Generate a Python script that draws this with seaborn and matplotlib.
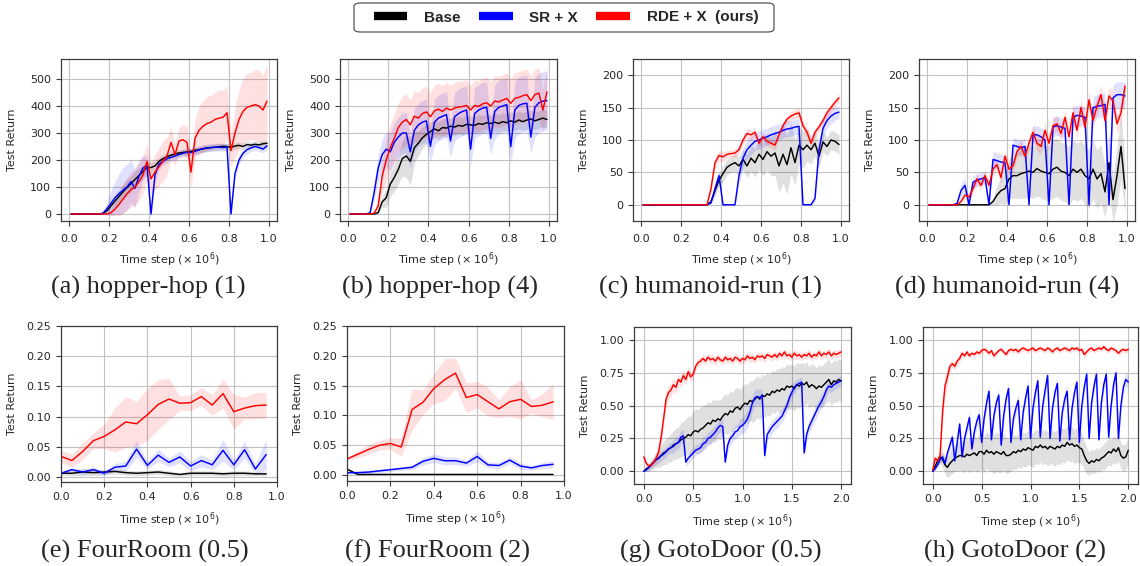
import numpy as np
import matplotlib
matplotlib.use("Agg")
import matplotlib.pyplot as plt
from matplotlib.lines import Line2D
from matplotlib.patches import FancyBboxPatch
import seaborn as sns

# x positions of the logged evaluations
x_top = np.linspace(0.01, 0.99, 50)   # hopper / humanoid, x 1e6 steps
x_four = np.linspace(0.0, 0.95, 20)   # FourRoom
x_goto = np.linspace(0.0, 2.0, 81)    # GotoDoor

# ---------------- (a) hopper-hop (1)
hh1_base = [0, 0, 0, 0, 0, 0, 0, 0, 2, 12,
            30, 48, 65, 82, 98, 112, 128, 142, 158, 172,
            172, 178, 195, 205, 212, 218, 222, 226, 228, 230,
            232, 236, 238, 241, 244, 246, 247, 249, 251, 250,
            246, 252, 254, 250, 257, 255, 258, 256, 260, 262]
hh1_base_sd = [0, 0, 0, 0, 0, 0, 0, 0, 2, 8,
               15, 20, 25, 28, 30, 30, 30, 28, 25, 22,
               20, 18, 15, 15, 14, 12, 12, 12, 12, 12,
               12, 12, 12, 13, 12, 12, 12, 13, 12, 12,
               14, 12, 12, 13, 12, 12, 13, 12, 12, 12]
hh1_sr = [0, 0, 0, 0, 0, 0, 0, 0, 3, 20,
          40, 60, 75, 88, 100, 120, 95, 140, 170, 180,
          0, 145, 185, 195, 205, 210, 215, 220, 225, 228,
          228, 232, 238, 242, 245, 246, 247, 248, 246, 248,
          0, 150, 200, 225, 238, 245, 250, 246, 240, 252]
hh1_sr_sd = [0, 0, 0, 0, 0, 0, 0, 0, 5, 25,
             45, 60, 75, 85, 85, 80, 70, 60, 45, 35,
             10, 30, 20, 15, 15, 14, 14, 14, 14, 14,
             14, 14, 14, 14, 14, 14, 14, 14, 14, 14,
             5, 20, 15, 14, 14, 14, 14, 14, 14, 14]
hh1_rde = [0, 0, 0, 0, 0, 0, 0, 0, 0, 0,
           5, 18, 35, 55, 75, 90, 100, 120, 145, 195,
           130, 155, 175, 195, 215, 265, 220, 270, 275, 265,
           155, 280, 310, 325, 335, 340, 350, 355, 358, 375,
           235, 300, 350, 380, 395, 400, 405, 400, 385, 418]
hh1_rde_sd = [0, 0, 0, 0, 0, 0, 0, 0, 0, 0,
              10, 25, 40, 55, 60, 65, 70, 70, 70, 65,
              60, 65, 70, 75, 70, 55, 40, 50, 55, 60,
              60, 70, 90, 95, 100, 100, 100, 105, 100, 100,
              60, 90, 110, 120, 125, 125, 130, 135, 130, 135]

# ---------------- (b) hopper-hop (4)
hh4_base = [0, 0, 0, 0, 0, 0, 0, 5, 45, 60,
            110, 135, 165, 205, 215, 195, 245, 262, 282, 295,
            305, 315, 308, 320, 318, 325, 322, 328, 325, 332,
            330, 328, 335, 332, 338, 335, 340, 335, 342, 338,
            345, 340, 348, 342, 348, 352, 345, 350, 355, 350]
hh4_base_sd = [0, 0, 0, 0, 0, 0, 0, 5, 20, 35,
               45, 50, 55, 65, 80, 90, 60, 45, 40, 38,
               35, 32, 33, 32, 34, 32, 33, 32, 34, 32,
               33, 32, 34, 32, 33, 32, 34, 32, 33, 32,
               34, 32, 33, 32, 34, 32, 33, 32, 34, 32]
hh4_sr = [0, 0, 0, 0, 0, 5, 80, 170, 220, 240,
          230, 265, 285, 300, 300, 230, 310, 330, 340, 345,
          250, 340, 355, 362, 368, 270, 360, 372, 380, 385,
          240, 372, 385, 392, 395, 280, 380, 395, 400, 405,
          250, 385, 402, 408, 410, 285, 395, 412, 418, 420]
hh4_sr_sd = [0, 0, 0, 0, 0, 5, 30, 50, 60, 65,
             70, 70, 75, 75, 75, 60, 80, 80, 80, 80,
             60, 85, 85, 85, 85, 60, 90, 90, 90, 90,
             60, 95, 95, 95, 95, 60, 100, 100, 100, 100,
             60, 105, 105, 105, 105, 60, 110, 110, 110, 110]
hh4_rde = [0, 0, 0, 0, 0, 0, 3, 30, 140, 200,
           245, 280, 320, 340, 350, 330, 362, 355, 372, 378,
           360, 382, 388, 380, 392, 385, 392, 396, 398, 402,
           385, 402, 398, 408, 412, 400, 418, 415, 422, 428,
           410, 428, 432, 438, 442, 420, 442, 448, 385, 452]
hh4_rde_sd = [0, 0, 0, 0, 0, 0, 2, 20, 60, 80,
              85, 90, 90, 95, 95, 90, 95, 95, 95, 95,
              90, 95, 95, 95, 95, 90, 95, 95, 95, 95,
              90, 95, 95, 95, 95, 90, 95, 95, 95, 95,
              90, 95, 95, 95, 95, 90, 95, 95, 80, 95]

# ---------------- (c) humanoid-run (1)
hr1_base = [0, 0, 0, 0, 0, 0, 0, 0, 0, 0,
            0, 0, 0, 0, 0, 0, 0, 5, 22, 38,
            48, 58, 62, 65, 60, 70, 60, 72, 65, 78,
            70, 82, 75, 80, 60, 78, 62, 88, 65, 92,
            85, 92, 85, 95, 75, 97, 90, 100, 98, 93]
hr1_base_sd = [0, 0, 0, 0, 0, 0, 0, 0, 0, 0,
               0, 0, 0, 0, 0, 0, 0, 3, 8, 10,
               12, 12, 12, 14, 15, 16, 18, 20, 22, 24,
               25, 28, 30, 35, 40, 45, 45, 40, 35, 30,
               28, 25, 22, 20, 18, 15, 15, 15, 15, 15]
hr1_sr = [0, 0, 0, 0, 0, 0, 0, 0, 0, 0,
          0, 0, 0, 0, 0, 0, 0, 3, 25, 45,
          0, 0, 0, 0, 45, 72, 85, 92, 98, 100,
          103, 105, 108, 110, 112, 115, 117, 118, 120, 121,
          0, 0, 0, 10, 85, 118, 130, 137, 141, 143]
hr1_sr_sd = [0, 0, 0, 0, 0, 0, 0, 0, 0, 0,
             0, 0, 0, 0, 0, 0, 0, 2, 8, 10,
             2, 0, 0, 0, 12, 15, 15, 15, 14, 14,
             14, 13, 13, 13, 12, 12, 12, 12, 12, 12,
             0, 0, 0, 5, 15, 14, 12, 12, 10, 10]
hr1_rde = [0, 0, 0, 0, 0, 0, 0, 0, 0, 0,
           0, 0, 0, 0, 0, 0, 0, 25, 65, 76,
           74, 78, 79, 80, 85, 100, 110, 108, 112, 95,
           105, 98, 95, 92, 108, 122, 132, 137, 140, 142,
           122, 112, 95, 112, 120, 130, 142, 150, 158, 165]
hr1_rde_sd = [0, 0, 0, 0, 0, 0, 0, 0, 0, 0,
              0, 0, 0, 0, 0, 0, 0, 5, 8, 8,
              8, 6, 6, 6, 6, 7, 8, 8, 8, 7,
              7, 7, 7, 7, 7, 7, 7, 7, 7, 7,
              8, 8, 7, 7, 7, 7, 7, 7, 7, 7]

# ---------------- (d) humanoid-run (4)
hr4_base = [0, 0, 0, 0, 0, 0, 0, 0, 0, 0,
            0, 0, 0, 0, 0, 0, 5, 15, 22, 25,
            40, 45, 45, 48, 50, 52, 50, 56, 52, 50,
            48, 55, 58, 52, 50, 45, 55, 50, 55, 45,
            40, 55, 40, 48, 20, 65, 8, 45, 90, 25]
hr4_base_sd = [0, 0, 0, 0, 0, 0, 0, 0, 0, 0,
               0, 0, 0, 0, 0, 0, 5, 15, 20, 25,
               30, 35, 35, 38, 40, 40, 40, 42, 42, 42,
               42, 45, 45, 45, 45, 45, 45, 45, 45, 45,
               45, 45, 45, 45, 40, 45, 35, 45, 50, 40]
hr4_sr = [0, 0, 0, 0, 0, 0, 0, 2, 22, 30,
          0, 35, 38, 40, 42, 0, 70, 68, 66, 65,
          0, 92, 90, 88, 90, 0, 108, 108, 105, 100,
          0, 120, 122, 120, 118, 0, 135, 138, 137, 135,
          0, 150, 152, 153, 155, 0, 165, 170, 170, 168]
hr4_sr_sd = [0, 0, 0, 0, 0, 0, 0, 2, 10, 12,
             0, 10, 10, 10, 10, 0, 12, 12, 12, 12,
             0, 12, 12, 12, 12, 0, 14, 14, 14, 14,
             0, 15, 15, 15, 15, 0, 16, 16, 16, 16,
             0, 18, 18, 18, 18, 0, 20, 20, 20, 20]
hr4_rde = [0, 0, 0, 0, 0, 0, 0, 0, 5, 15,
           12, 25, 40, 30, 45, 30, 55, 62, 42, 75,
           55, 60, 82, 90, 75, 95, 112, 95, 90, 115,
           95, 122, 125, 110, 135, 105, 142, 115, 150, 120,
           162, 130, 152, 170, 130, 168, 160, 125, 142, 183]
hr4_rde_sd = [0, 0, 0, 0, 0, 0, 0, 0, 3, 6,
              6, 8, 8, 8, 8, 8, 10, 10, 10, 10,
              10, 10, 10, 10, 10, 12, 12, 12, 12, 12,
              12, 12, 12, 12, 12, 14, 14, 14, 14, 14,
              14, 14, 14, 15, 15, 15, 15, 15, 15, 15]

# ---------------- (e) FourRoom (0.5)
fr05_base = [0.006, 0.006, 0.008, 0.007, 0.008, 0.009, 0.007, 0.006, 0.007, 0.008,
             0.006, 0.004, 0.006, 0.006, 0.006, 0.005, 0.006, 0.006, 0.005, 0.005]
fr05_base_sd = [0.003, 0.004, 0.006, 0.005, 0.004, 0.004, 0.004, 0.004, 0.004, 0.004,
                0.004, 0.003, 0.004, 0.004, 0.004, 0.004, 0.004, 0.004, 0.003, 0.003]
fr05_sr = [0.006, 0.012, 0.008, 0.012, 0.006, 0.016, 0.018, 0.046, 0.019, 0.036,
           0.024, 0.033, 0.018, 0.027, 0.020, 0.044, 0.020, 0.045, 0.013, 0.037]
fr05_sr_sd = [0.002, 0.003, 0.004, 0.005, 0.004, 0.006, 0.008, 0.014, 0.006, 0.010,
              0.007, 0.010, 0.008, 0.010, 0.008, 0.018, 0.008, 0.014, 0.008, 0.026]
fr05_rde = [0.034, 0.027, 0.042, 0.060, 0.067, 0.078, 0.091, 0.088, 0.103, 0.120,
            0.129, 0.122, 0.123, 0.133, 0.119, 0.138, 0.108, 0.114, 0.118, 0.119]
fr05_rde_sd = [0.010, 0.011, 0.014, 0.013, 0.020, 0.037, 0.042, 0.037, 0.043, 0.041,
               0.034, 0.012, 0.013, 0.015, 0.017, 0.024, 0.029, 0.018, 0.022, 0.021]

# ---------------- (f) FourRoom (2)
fr2_base = [0.010, 0.001, 0.001, 0.001, 0.001, 0.001, 0.001, 0.001, 0.001, 0.001,
            0.001, 0.001, 0.001, 0.001, 0.001, 0.001, 0.001, 0.001, 0.001, 0.001]
fr2_base_sd = [0.002, 0.001, 0.000, 0.000, 0.000, 0.000, 0.000, 0.000, 0.000, 0.000,
               0.000, 0.000, 0.000, 0.000, 0.000, 0.000, 0.000, 0.000, 0.000, 0.000]
fr2_sr = [0.004, 0.004, 0.005, 0.007, 0.009, 0.011, 0.013, 0.023, 0.028, 0.024,
          0.024, 0.020, 0.031, 0.017, 0.016, 0.025, 0.015, 0.012, 0.016, 0.018]
fr2_sr_sd = [0.002, 0.003, 0.003, 0.003, 0.003, 0.003, 0.004, 0.006, 0.007, 0.007,
             0.006, 0.005, 0.009, 0.005, 0.005, 0.006, 0.005, 0.004, 0.005, 0.006]
fr2_rde = [0.027, 0.035, 0.043, 0.050, 0.053, 0.047, 0.110, 0.122, 0.145, 0.160,
           0.171, 0.130, 0.135, 0.123, 0.111, 0.123, 0.127, 0.115, 0.117, 0.123]
fr2_rde_sd = [0.003, 0.006, 0.008, 0.008, 0.010, 0.015, 0.035, 0.020, 0.025, 0.035,
              0.026, 0.025, 0.022, 0.024, 0.015, 0.025, 0.033, 0.011, 0.019, 0.030]

# ---------------- (g) GotoDoor (0.5)
gd05_base = [0.00, 0.02, 0.03, 0.05, 0.07, 0.09, 0.10, 0.12, 0.14, 0.15,
             0.17, 0.18, 0.20, 0.21, 0.22, 0.24, 0.25, 0.26, 0.28, 0.27,
             0.30, 0.31, 0.30, 0.32, 0.33, 0.35, 0.37, 0.36, 0.39, 0.38,
             0.40, 0.39, 0.42, 0.44, 0.43, 0.46, 0.45, 0.48, 0.49, 0.47,
             0.50, 0.52, 0.51, 0.54, 0.53, 0.55, 0.57, 0.55, 0.58, 0.57,
             0.59, 0.58, 0.61, 0.60, 0.62, 0.61, 0.63, 0.62, 0.65, 0.64,
             0.65, 0.63, 0.66, 0.65, 0.67, 0.66, 0.68, 0.64, 0.66, 0.65,
             0.63, 0.65, 0.64, 0.66, 0.68, 0.70, 0.66, 0.69, 0.68, 0.70,
             0.69]
gd05_base_sd = [0.00, 0.02, 0.03, 0.04, 0.05, 0.06, 0.07, 0.08, 0.09, 0.10,
                0.10, 0.11, 0.11, 0.12, 0.12, 0.13, 0.13, 0.14, 0.14, 0.15,
                0.16, 0.17, 0.17, 0.17, 0.17, 0.16, 0.16, 0.16, 0.16, 0.16,
                0.15, 0.15, 0.15, 0.15, 0.15, 0.15, 0.15, 0.15, 0.15, 0.15,
                0.15, 0.15, 0.15, 0.15, 0.16, 0.16, 0.16, 0.16, 0.16, 0.16,
                0.16, 0.16, 0.16, 0.16, 0.16, 0.17, 0.17, 0.17, 0.17, 0.17,
                0.17, 0.17, 0.17, 0.17, 0.16, 0.16, 0.16, 0.16, 0.16, 0.16,
                0.16, 0.16, 0.16, 0.16, 0.16, 0.16, 0.16, 0.16, 0.16, 0.16,
                0.16]
gd05_sr = [0.00, 0.01, 0.03, 0.05, 0.07, 0.09, 0.10, 0.12, 0.13, 0.15,
           0.17, 0.18, 0.19, 0.21, 0.22, 0.26, 0.27, 0.07, 0.10, 0.12,
           0.14, 0.16, 0.17, 0.18, 0.21, 0.22, 0.25, 0.26, 0.28, 0.30,
           0.33, 0.35, 0.34, 0.07, 0.20, 0.25, 0.27, 0.30, 0.31, 0.34,
           0.35, 0.37, 0.40, 0.45, 0.52, 0.56, 0.57, 0.56, 0.58, 0.12,
           0.28, 0.31, 0.34, 0.36, 0.38, 0.40, 0.42, 0.46, 0.50, 0.56,
           0.60, 0.64, 0.66, 0.67, 0.68, 0.14, 0.28, 0.34, 0.38, 0.42,
           0.46, 0.50, 0.53, 0.57, 0.62, 0.65, 0.64, 0.66, 0.67, 0.68,
           0.69]
gd05_sr_sd = [0.00, 0.01, 0.02, 0.03, 0.03, 0.04, 0.04, 0.04, 0.04, 0.04,
              0.04, 0.04, 0.05, 0.05, 0.05, 0.05, 0.05, 0.03, 0.04, 0.04,
              0.04, 0.04, 0.04, 0.04, 0.05, 0.05, 0.05, 0.05, 0.05, 0.05,
              0.05, 0.05, 0.05, 0.03, 0.05, 0.05, 0.05, 0.05, 0.05, 0.06,
              0.06, 0.07, 0.07, 0.07, 0.06, 0.06, 0.06, 0.06, 0.05, 0.04,
              0.05, 0.05, 0.05, 0.05, 0.05, 0.05, 0.05, 0.05, 0.05, 0.05,
              0.05, 0.05, 0.04, 0.04, 0.04, 0.04, 0.05, 0.05, 0.05, 0.05,
              0.05, 0.05, 0.05, 0.05, 0.05, 0.04, 0.04, 0.04, 0.04, 0.04,
              0.04]
gd05_rde = [0.11, 0.06, 0.04, 0.05, 0.07, 0.10, 0.15, 0.26, 0.40, 0.55,
            0.60, 0.62, 0.66, 0.64, 0.70, 0.68, 0.73, 0.70, 0.76, 0.72,
            0.74, 0.80, 0.83, 0.84, 0.86, 0.84, 0.87, 0.85, 0.86, 0.84,
            0.87, 0.85, 0.84, 0.87, 0.85, 0.86, 0.84, 0.87, 0.86, 0.84,
            0.86, 0.85, 0.88, 0.86, 0.87, 0.85, 0.88, 0.87, 0.88, 0.86,
            0.89, 0.88, 0.87, 0.89, 0.87, 0.90, 0.88, 0.91, 0.88, 0.89,
            0.87, 0.90, 0.88, 0.89, 0.87, 0.89, 0.88, 0.90, 0.87, 0.89,
            0.88, 0.91, 0.88, 0.90, 0.89, 0.91, 0.88, 0.90, 0.89, 0.90,
            0.91]
gd05_rde_sd = [0.01, 0.02, 0.02, 0.02, 0.03, 0.04, 0.05, 0.06, 0.07, 0.06,
               0.05, 0.05, 0.05, 0.05, 0.04, 0.04, 0.04, 0.04, 0.04, 0.04,
               0.04, 0.03, 0.03, 0.03, 0.03, 0.03, 0.03, 0.03, 0.03, 0.03,
               0.03, 0.03, 0.03, 0.03, 0.03, 0.03, 0.03, 0.03, 0.03, 0.03,
               0.03, 0.03, 0.03, 0.03, 0.03, 0.03, 0.03, 0.03, 0.03, 0.03,
               0.03, 0.03, 0.03, 0.03, 0.03, 0.03, 0.03, 0.03, 0.03, 0.03,
               0.03, 0.03, 0.03, 0.03, 0.03, 0.03, 0.03, 0.03, 0.03, 0.03,
               0.03, 0.03, 0.03, 0.03, 0.03, 0.03, 0.03, 0.03, 0.03, 0.03,
               0.03]

# ---------------- (h) GotoDoor (2)
gd2_base = [0.00, 0.04, 0.08, 0.11, 0.09, 0.05, 0.03, 0.06, 0.08, 0.10,
            0.11, 0.12, 0.12, 0.11, 0.13, 0.12, 0.13, 0.14, 0.12, 0.15,
            0.15, 0.13, 0.16, 0.14, 0.15, 0.13, 0.15, 0.14, 0.13, 0.15,
            0.12, 0.12, 0.13, 0.15, 0.14, 0.16, 0.15, 0.17, 0.16, 0.18,
            0.17, 0.16, 0.19, 0.18, 0.20, 0.18, 0.19, 0.17, 0.19, 0.18,
            0.17, 0.19, 0.18, 0.20, 0.19, 0.22, 0.20, 0.21, 0.19, 0.20,
            0.18, 0.17, 0.12, 0.08, 0.06, 0.08, 0.07, 0.09, 0.08, 0.10,
            0.11, 0.13, 0.15, 0.14, 0.17, 0.15, 0.18, 0.12, 0.10, 0.11,
            0.16]
gd2_base_sd = [0.00, 0.02, 0.04, 0.05, 0.06, 0.07, 0.08, 0.09, 0.10, 0.10,
               0.11, 0.11, 0.12, 0.12, 0.12, 0.13, 0.13, 0.13, 0.13, 0.14,
               0.14, 0.14, 0.14, 0.14, 0.15, 0.15, 0.15, 0.15, 0.14, 0.14,
               0.14, 0.13, 0.13, 0.13, 0.13, 0.13, 0.13, 0.13, 0.13, 0.13,
               0.13, 0.13, 0.13, 0.13, 0.13, 0.13, 0.13, 0.13, 0.13, 0.13,
               0.13, 0.13, 0.13, 0.13, 0.13, 0.13, 0.13, 0.13, 0.13, 0.13,
               0.12, 0.12, 0.11, 0.10, 0.09, 0.09, 0.09, 0.09, 0.09, 0.09,
               0.10, 0.10, 0.10, 0.10, 0.10, 0.10, 0.10, 0.10, 0.10, 0.10,
               0.10]
gd2_sr = [0.00, 0.02, 0.05, 0.09, 0.11, 0.06, 0.14, 0.20, 0.26, 0.08,
          0.22, 0.36, 0.11, 0.25, 0.33, 0.41, 0.17, 0.30, 0.38, 0.43,
          0.22, 0.40, 0.52, 0.61, 0.24, 0.42, 0.52, 0.58, 0.20, 0.42,
          0.55, 0.63, 0.22, 0.40, 0.48, 0.54, 0.24, 0.45, 0.56, 0.65,
          0.25, 0.48, 0.60, 0.69, 0.26, 0.50, 0.62, 0.73, 0.25, 0.48,
          0.60, 0.67, 0.23, 0.45, 0.55, 0.61, 0.24, 0.48, 0.60, 0.68,
          0.22, 0.50, 0.64, 0.74, 0.25, 0.52, 0.65, 0.74, 0.24, 0.52,
          0.66, 0.74, 0.26, 0.50, 0.66, 0.75, 0.25, 0.50, 0.64, 0.70,
          0.68]
gd2_sr_sd = [0.00, 0.01, 0.02, 0.03, 0.03, 0.03, 0.03, 0.04, 0.04, 0.03,
             0.04, 0.05, 0.03, 0.04, 0.05, 0.05, 0.03, 0.04, 0.05, 0.05,
             0.03, 0.04, 0.05, 0.05, 0.03, 0.04, 0.05, 0.05, 0.03, 0.04,
             0.05, 0.05, 0.03, 0.04, 0.05, 0.05, 0.03, 0.04, 0.05, 0.05,
             0.03, 0.04, 0.05, 0.05, 0.03, 0.04, 0.05, 0.05, 0.03, 0.04,
             0.05, 0.05, 0.03, 0.04, 0.05, 0.05, 0.03, 0.04, 0.05, 0.05,
             0.03, 0.04, 0.05, 0.05, 0.03, 0.04, 0.05, 0.05, 0.03, 0.04,
             0.05, 0.05, 0.03, 0.04, 0.05, 0.05, 0.03, 0.04, 0.05, 0.05,
             0.05]
gd2_rde = [0.01, 0.10, 0.08, 0.12, 0.45, 0.65, 0.72, 0.80, 0.82, 0.80,
           0.84, 0.86, 0.90, 0.88, 0.91, 0.88, 0.90, 0.89, 0.91, 0.90,
           0.92, 0.93, 0.92, 0.90, 0.92, 0.88, 0.90, 0.92, 0.93, 0.91,
           0.89, 0.92, 0.93, 0.92, 0.93, 0.91, 0.93, 0.94, 0.93, 0.92,
           0.93, 0.94, 0.92, 0.93, 0.94, 0.93, 0.92, 0.94, 0.93, 0.91,
           0.93, 0.94, 0.92, 0.93, 0.94, 0.93, 0.92, 0.94, 0.93, 0.94,
           0.92, 0.93, 0.89, 0.91, 0.93, 0.94, 0.92, 0.93, 0.94, 0.93,
           0.95, 0.93, 0.92, 0.94, 0.93, 0.92, 0.90, 0.92, 0.93, 0.92,
           0.93]
gd2_rde_sd = [0.00, 0.03, 0.03, 0.04, 0.08, 0.08, 0.06, 0.04, 0.03, 0.03,
              0.03, 0.03, 0.02, 0.02, 0.02, 0.02, 0.02, 0.02, 0.02, 0.02,
              0.02, 0.02, 0.02, 0.02, 0.02, 0.03, 0.02, 0.02, 0.02, 0.02,
              0.02, 0.02, 0.02, 0.02, 0.02, 0.02, 0.02, 0.02, 0.02, 0.02,
              0.02, 0.02, 0.02, 0.02, 0.02, 0.02, 0.02, 0.02, 0.02, 0.02,
              0.02, 0.02, 0.02, 0.02, 0.02, 0.02, 0.02, 0.02, 0.02, 0.02,
              0.02, 0.02, 0.03, 0.02, 0.02, 0.02, 0.02, 0.02, 0.02, 0.02,
              0.02, 0.02, 0.02, 0.02, 0.02, 0.02, 0.02, 0.02, 0.02, 0.02,
              0.02]

captions = ["(a) hopper-hop (1)", "(b) hopper-hop (4)", "(c) humanoid-run (1)",
            "(d) humanoid-run (4)", "(e) FourRoom (0.5)", "(f) FourRoom (2)",
            "(g) GotoDoor (0.5)", "(h) GotoDoor (2)"]
legend_labels = ["Base", "SR + X", "RDE + X  (ours)"]

# ---------------- style
sns.set_style("ticks", {"axes.grid": True, "grid.color": "#c2c2c2",
                        "axes.edgecolor": "#3c3c3c", "grid.linewidth": 0.9})
plt.rcParams["font.family"] = ["DejaVu Sans"]

W, H = 1140, 566
fig = plt.figure(figsize=(W / 100, H / 100), dpi=100)


def box(l, t, r, b):
    return [l / W, 1 - b / H, (r - l) / W, (b - t) / H]


panels = [
    dict(pos=(61, 59, 277, 221), x=x_top, d=(hh1_base, hh1_base_sd, hh1_sr, hh1_sr_sd, hh1_rde, hh1_rde_sd),
         xlim=(-0.04, 1.04), ylim=(-26, 574), yt=[0, 100, 200, 300, 400, 500], xt=[0, .2, .4, .6, .8, 1.0]),
    dict(pos=(340, 59, 557, 221), x=x_top, d=(hh4_base, hh4_base_sd, hh4_sr, hh4_sr_sd, hh4_rde, hh4_rde_sd),
         xlim=(-0.04, 1.04), ylim=(-26, 574), yt=[0, 100, 200, 300, 400, 500], xt=[0, .2, .4, .6, .8, 1.0]),
    dict(pos=(633, 59, 849, 221), x=x_top, d=(hr1_base, hr1_base_sd, hr1_sr, hr1_sr_sd, hr1_rde, hr1_rde_sd),
         xlim=(-0.04, 1.04), ylim=(-25, 225), yt=[0, 50, 100, 150, 200], xt=[0, .2, .4, .6, .8, 1.0]),
    dict(pos=(919, 59, 1135, 221), x=x_top, d=(hr4_base, hr4_base_sd, hr4_sr, hr4_sr_sd, hr4_rde, hr4_rde_sd),
         xlim=(-0.04, 1.04), ylim=(-25, 225), yt=[0, 50, 100, 150, 200], xt=[0, .2, .4, .6, .8, 1.0]),
    dict(pos=(61, 326, 277, 482), x=x_four, d=(fr05_base, fr05_base_sd, fr05_sr, fr05_sr_sd, fr05_rde, fr05_rde_sd),
         xlim=(0, 1.0), ylim=(-0.0085, 0.25), yt=[0, .05, .10, .15, .20, .25], xt=[0, .2, .4, .6, .8, 1.0]),
    dict(pos=(347, 326, 564, 481), x=x_four, d=(fr2_base, fr2_base_sd, fr2_sr, fr2_sr_sd, fr2_rde, fr2_rde_sd),
         xlim=(0, 1.0), ylim=(-0.01, 0.25), yt=[0, .05, .10, .15, .20, .25], xt=[0, .2, .4, .6, .8, 1.0]),
    dict(pos=(634, 327, 851, 484), x=x_goto, d=(gd05_base, gd05_base_sd, gd05_sr, gd05_sr_sd, gd05_rde, gd05_rde_sd),
         xlim=(-0.1, 2.1), ylim=(-0.097, 1.1), yt=[0, .25, .5, .75, 1.0], xt=[0, .5, 1.0, 1.5, 2.0]),
    dict(pos=(923, 327, 1138, 484), x=x_goto, d=(gd2_base, gd2_base_sd, gd2_sr, gd2_sr_sd, gd2_rde, gd2_rde_sd),
         xlim=(-0.1, 2.1), ylim=(-0.097, 1.1), yt=[0, .25, .5, .75, 1.0], xt=[0, .5, 1.0, 1.5, 2.0]),
]
cap_pos = [(148, 287), (440, 287), (710, 287), (1007, 287),
           (145, 551), (438, 551), (721, 551), (1015, 551)]
colors = ["black", "blue", "red"]

for i, p in enumerate(panels):
    ax = fig.add_axes(box(*p["pos"]))
    x = p["x"]
    d = p["d"]
    for j, c in enumerate(colors):
        m = np.array(d[2 * j], dtype=float)
        s = np.array(d[2 * j + 1], dtype=float)
        ax.fill_between(x, m - s, m + s, color=c, alpha=0.12, lw=0)
    for j, c in enumerate(colors):
        sns.lineplot(x=x, y=d[2 * j], color=c, lw=1.05, ax=ax)
    ax.set_xlim(*p["xlim"])
    ax.set_ylim(*p["ylim"])
    ax.set_xticks(p["xt"])
    ax.set_yticks(p["yt"])
    if i >= 4:
        ax.set_yticklabels(["%.2f" % v for v in p["yt"]])
    ax.set_xticklabels(["%.1f" % v for v in p["xt"]])
    top = i < 4
    ax.tick_params(labelsize=8, length=3.5, width=0.8, color="#3c3c3c")
    ax.tick_params(axis="x", pad=5.5 if top else 3.5)
    ax.set_xlabel("Time step (× 10$^6$)", fontsize=8, labelpad=5 if top else 6)
    ax.set_ylabel("Test Return", fontsize=8)
    ax.yaxis.set_label_coords(-0.205, 0.5)
    for sp in ax.spines.values():
        sp.set_linewidth(0.9)
    fig.text(cap_pos[i][0] / W, 1 - cap_pos[i][1] / H, captions[i], ha="center", va="center",
             family="Liberation Serif", fontsize=19)

# legend box drawn as its own rounded frame, entries centred inside
fig.patches.append(FancyBboxPatch((354 / W, 1 - 32 / H), 420 / W, 29 / H,
                                  boxstyle="round,pad=0,rounding_size=0.006",
                                  transform=fig.transFigure, facecolor="white",
                                  edgecolor="#555555", lw=0.9))
handles = [Line2D([0], [0], color=c, lw=6, solid_capstyle="butt") for c in colors]
fig.legend(handles, legend_labels, loc="center", bbox_to_anchor=(566 / W, 1 - 17.5 / H), ncol=3,
           prop=dict(family="Liberation Sans", weight="bold", size=11), handlelength=2.2,
           handletextpad=1.1, columnspacing=1.2, frameon=False)

fig.savefig("out.png", dpi=100)
